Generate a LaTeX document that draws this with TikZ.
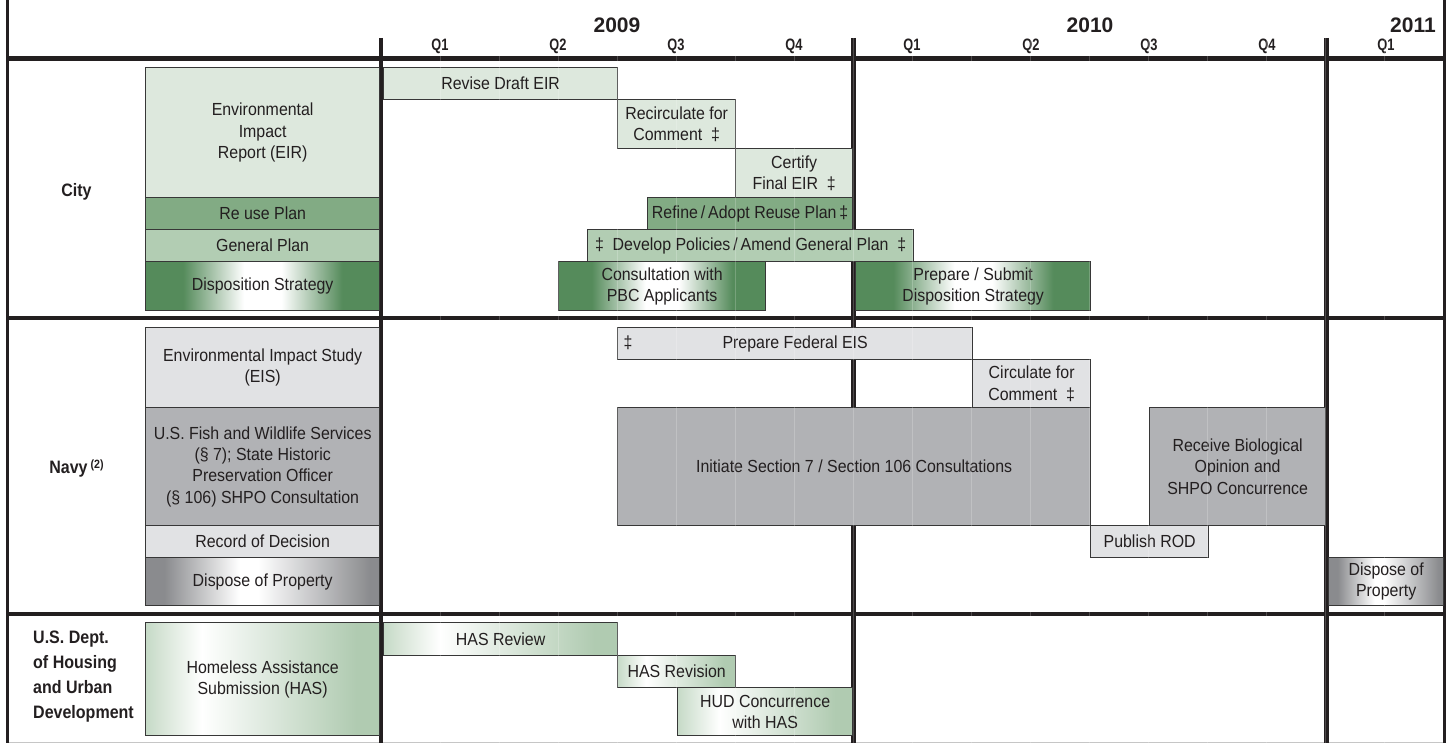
\documentclass[tikz,border=0pt]{standalone}
\usepackage{fontspec}
\setmainfont[FakeStretch=0.91]{Liberation Sans}
\newfontfamily\labfont[FakeStretch=0.89]{Liberation Sans}
\newfontfamily\qfont[FakeStretch=0.78]{Liberation Sans}
\newfontfamily\yfont{Liberation Sans}
\definecolor{ink}{RGB}{35,31,32}
\definecolor{bd}{RGB}{55,55,55}
\definecolor{eirg}{RGB}{221,232,221}
\definecolor{reuseg}{RGB}{130,171,132}
\definecolor{genpg}{RGB}{178,205,179}
\definecolor{dispg}{RGB}{85,139,91}
\definecolor{lgr}{RGB}{225,226,228}
\definecolor{mgr}{RGB}{177,178,181}
\definecolor{dgr}{RGB}{138,139,142}
\definecolor{hasl}{RGB}{198,218,199}
\definecolor{hasr}{RGB}{176,203,177}
\pgfdeclarehorizontalshading{dispshade}{100bp}{color(0bp)=(dispg); color(33bp)=(dispg); color(46bp)=(white); color(54bp)=(white); color(67bp)=(dispg); color(100bp)=(dispg)}
\pgfdeclarehorizontalshading{grayshade}{100bp}{color(0bp)=(dgr); color(29bp)=(dgr); color(45bp)=(white); color(49bp)=(white); color(73bp)=(dgr); color(100bp)=(dgr)}
\pgfdeclarehorizontalshading{hasshade}{100bp}{color(0bp)=(hasl); color(25bp)=(hasl); color(37bp)=(white); color(70bp)=(hasr); color(100bp)=(hasr)}
\tikzset{
  bx/.style={draw=bd, line width=1.3pt, inner sep=1pt, align=center, text=ink,
    font=\fontsize{17.5}{21.3}\selectfont},
  eir/.style={bx, fill=eirg},
  reuse/.style={bx, fill=reuseg},
  genp/.style={bx, fill=genpg},
  disp/.style={bx, shade, shading=dispshade},
  lg/.style={bx, fill=lgr},
  mg/.style={bx, fill=mgr},
  dg/.style={bx, shade, shading=grayshade},
  hs/.style={bx, shade, shading=hasshade},
  rule/.style={draw=ink, line width=4.6pt},
  siderule/.style={draw=ink, line width=3pt},
  qlab/.style={font=\qfont\bfseries\fontsize{16.5}{16.5}\selectfont, text=ink, inner sep=0pt, anchor=base},
  ylab/.style={font=\yfont\bfseries\fontsize{21}{21}\selectfont, text=ink, inner sep=0pt, anchor=base},
  grp/.style={font=\labfont\bfseries\fontsize{18}{25}\selectfont, text=ink, inner sep=0pt},
  gridl/.style={draw=white, opacity=0.2, line width=0.7pt}
}
\newcommand\gbox[7]{%
  \node[#6, anchor=north west, minimum width={(#4-#2)*1pt}, minimum height={(#5-#3)*1pt}] (#1) at (#2,#3) {#7};}
\begin{document}
\begin{tikzpicture}[x=1pt,y=-1pt]
\useasboundingbox (0,0) rectangle (1449,743);
% coordinates for rules
\coordinate (lt) at (7,0);   \coordinate (lb) at (7,743);
\coordinate (rt) at (1444.5,0); \coordinate (rb) at (1444.5,743);
\coordinate (h1) at (7,58.5); \coordinate (h2) at (1444.5,58.5);
\coordinate (s1a) at (7,318); \coordinate (s1b) at (1444.5,318);
\coordinate (s2a) at (7,614); \coordinate (s2b) at (1444.5,614);
\coordinate (y1t) at (381,38); \coordinate (y1b) at (381,743);
\coordinate (y2t) at (853.5,38); \coordinate (y2b) at (853.5,743);
\coordinate (y3t) at (1326.5,38); \coordinate (y3b) at (1326.5,743);
\coordinate (ba) at (7,742.3); \coordinate (bb) at (1444.5,742.3);
\draw[gray!45, line width=1pt] (ba) -- (bb);
\draw[siderule] (lt) -- (lb);
\draw[siderule] (rt) -- (rb);
\draw[rule] (h1) -- (h2);
\draw[rule] (s1a) -- (s1b);
\draw[rule] (s2a) -- (s2b);
\draw[rule] (y1t) -- (y1b);
\draw[rule] (y2t) -- (y2b);
\draw[rule] (y3t) -- (y3b);
% header
\node[ylab] (y2009) at (617,33) {2009};
\node[ylab] (y2010) at (1090,33) {2010};
\node[ylab] (y2011) at (1413,33) {2011};
\node[qlab] (q1a) at (440,51) {Q1};
\node[qlab] (q2a) at (558,51) {Q2};
\node[qlab] (q3a) at (676,51) {Q3};
\node[qlab] (q4a) at (794,51) {Q4};
\node[qlab] (q1b) at (912,51) {Q1};
\node[qlab] (q2b) at (1031,51) {Q2};
\node[qlab] (q3b) at (1149,51) {Q3};
\node[qlab] (q4b) at (1267,51) {Q4};
\node[qlab] (q1c) at (1386,51) {Q1};
% group labels
\node[grp, anchor=base] (city) at (76.5,197) {City};
\node[grp, anchor=base] (navy) at (76.5,473) {Navy\,\raisebox{5pt}{\fontsize{12}{12}\selectfont(2)}};
\node[grp, anchor=north west, align=left] (hudL) at (33,631) {U.S. Dept.\\of Housing\\and Urban\\Development};
% City
\gbox{eirL}{145}{67}{379}{197}{eir}{Environmental\\Impact\\Report (EIR)}
\gbox{reuseL}{145}{197}{379}{229}{reuse}{Re use Plan}
\gbox{genL}{145}{229}{379}{261}{genp}{General Plan}
\gbox{dispL}{145}{261}{379}{310}{disp}{Disposition Strategy}
\gbox{revise}{383}{67}{617}{99}{eir}{Revise Draft EIR}
\gbox{recirc}{617}{99}{735}{148}{eir}{Recirculate for\\Comment\enspace‡}
\gbox{certify}{735}{148}{852}{197}{eir}{Certify\\Final EIR\enspace‡}
\gbox{refine}{647}{197}{852}{229}{reuse}{Refine\,/\,Adopt Reuse Plan\,‡}
\gbox{develop}{587}{229}{913}{261}{genp}{‡\enspace Develop Policies\,/\,Amend General Plan\enspace‡}
\gbox{pbc}{558}{261}{765}{310}{disp}{Consultation with\\PBC Applicants}
\gbox{submit}{855}{261}{1090}{310}{disp}{Prepare / Submit\\Disposition Strategy}
% Navy
\gbox{eisL}{145}{327}{379}{407}{lg}{Environmental Impact Study\\(EIS)}
\gbox{fishL}{145}{407}{379}{525}{mg}{U.S. Fish and Wildlife Services\\(§ 7); State Historic\\Preservation Officer\\(§ 106) SHPO Consultation}
\gbox{rodL}{145}{525}{379}{557}{lg}{Record of Decision}
\gbox{dispoL}{145}{557}{379}{605}{dg}{Dispose of Property}
\gbox{feis}{617}{327}{972}{359}{lg}{Prepare Federal EIS}
\node[text=ink, font=\fontsize{17.5}{21.3}\selectfont, inner sep=0pt] (feisdag) at (628,343) {‡};
\gbox{circ}{972}{359}{1090}{407}{lg}{Circulate for\\Comment\enspace‡}
\gbox{init}{617}{407}{1090}{525}{mg}{Initiate Section 7 / Section 106 Consultations}
\gbox{recv}{1149}{407}{1325}{525}{mg}{Receive Biological\\Opinion and\\SHPO Concurrence}
\gbox{rod}{1090}{525}{1208}{557}{lg}{Publish ROD}
\gbox{dispo}{1328}{557}{1443}{605}{dg}{Dispose of\\Property}
% HUD
\gbox{hasL}{145}{622}{379}{735}{hs}{Homeless Assistance\\Submission (HAS)}
\gbox{hasrev}{383}{622}{617}{655}{hs}{HAS Review}
\gbox{hasrevi}{617}{655}{735}{687}{hs}{HAS Revision}
\gbox{hud}{677}{687}{852}{735}{hs}{HUD Concurrence\\with HAS}
% faint grid
\foreach \k in {1,...,17}{
  \coordinate (gt\k) at ({381+59*\k},0);
  \coordinate (gb\k) at ({381+59*\k},743);
  \draw[gridl] (gt\k) -- (gb\k);
}
\end{tikzpicture}
\end{document}
